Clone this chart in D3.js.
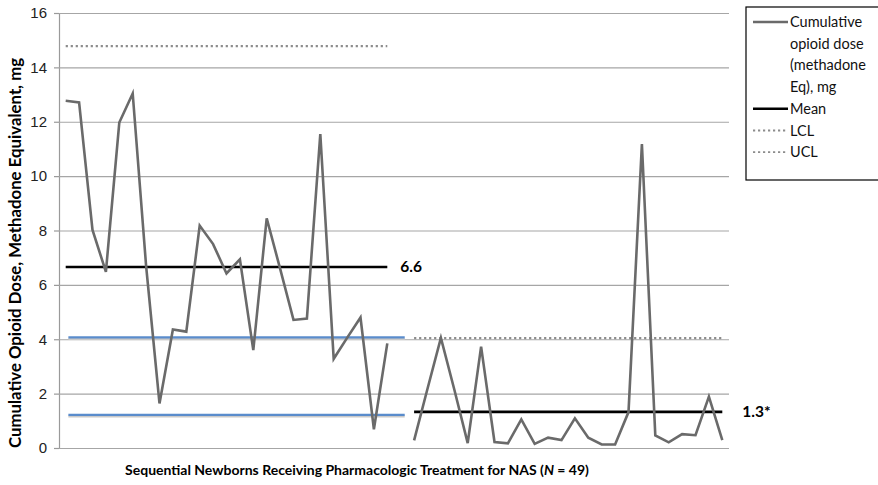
<!DOCTYPE html>
<html>
<head>
<meta charset="utf-8">
<script src="https://cdn.jsdelivr.net/npm/d3@7"></script>
<style>
  body { margin: 0; background: #fff; }
  svg { font-family: Lato, "Open Sans", sans-serif; }
</style>
</head>
<body>
<svg id="chart"></svg>
<script>
const WIDTH = 878, HEIGHT = 485;

// sequential newborns, before (1-25) and after (27-50) the intervention; slot 26 is the break
const doseBefore = [12.77, 12.71, 8.02, 6.48, 11.97, 13.04, 6.7, 1.64, 4.36, 4.28, 8.18, 7.5, 6.42,
                    6.94, 3.6, 8.45, 6.6, 4.71, 4.76, 11.55, 3.28, 4.05, 4.8, 0.69, 3.85];
const doseAfter = [0.28, 2.18, 4.05, 2.15, 0.18, 3.73, 0.22, 0.17, 1.05, 0.15, 0.38, 0.29,
                   1.09, 0.38, 0.13, 0.13, 1.32, 11.18, 0.46, 0.21, 0.51, 0.47, 1.89, 0.29];

const meanBefore = 6.66, meanAfter = 1.33;
const uclBefore = 14.78, uclAfter = 4.04;
const meanLabels = ["6.6", "1.3*"];
// the two blue lines drawn by hand over the first phase
const blueLines = [4.07, 1.22];

const yTicks = [0, 2, 4, 6, 8, 10, 12, 14, 16];
const legendItems = [
    { lines: ["Cumulative", "opioid dose", "(methadone", "Eq), mg"], type: "dose" },
    { lines: ["Mean"], type: "mean" },
    { lines: ["LCL"], type: "limit" },
    { lines: ["UCL"], type: "limit" }
];

const nSlots = doseBefore.length + 1 + doseAfter.length;
const series = doseBefore.concat([null], doseAfter);

const margin = { top: 13, bottom: 37, left: 59, right: 149 };

const svg = d3.select('svg#chart')
                .attr('width', WIDTH)
                .attr('height', HEIGHT);

const x = d3.scaleLinear()
                .domain([-0.5, nSlots - 0.5])
                .range([margin.left, WIDTH - margin.right]);

const y = d3.scaleLinear()
                .domain([0, 16])
                .range([HEIGHT - margin.bottom, margin.top]);

// gridlines + y axis
const yAxis = d3.axisLeft(y)
                .tickValues(yTicks)
                .tickSize(-(x.range()[1] - x.range()[0]))
                .tickPadding(12);

const yAxisG = svg.append('g')
                .attr('transform', `translate(${margin.left}, 0)`)
                .call(yAxis);

yAxisG.select('.domain').attr('stroke', '#9a9a9a').attr('stroke-width', 1.2);
yAxisG.selectAll('.tick line').attr('stroke', '#a6a6a6').attr('stroke-width', 1.2);
yAxisG.selectAll('.tick line').clone()
        .attr('x2', -5)
        .attr('stroke', '#9a9a9a');
yAxisG.selectAll('.tick text')
        .attr('font-size', 15)
        .attr('fill', '#222');

const limitStyle = (sel) => sel
        .attr('stroke', '#8c8c8c')
        .attr('stroke-width', 2.2)
        .attr('stroke-dasharray', '2.2,2.8')
        .attr('fill', 'none');

const hLine = (v, i0, i1) => svg.append('line')
        .attr('x1', x(i0)).attr('x2', x(i1))
        .attr('y1', y(v)).attr('y2', y(v));

// control limits
limitStyle(hLine(uclBefore, 0, doseBefore.length - 1));
limitStyle(hLine(uclAfter, doseBefore.length + 1, nSlots - 1));

// hand drawn blue lines, with their faint shadow
blueLines.forEach((v) => {
    svg.append('line')
        .attr('x1', x(0.2)).attr('x2', x(25.3))
        .attr('y1', y(v) + 1.6).attr('y2', y(v) + 1.6)
        .attr('stroke', '#c9c9c9').attr('stroke-width', 2);
    svg.append('line')
        .attr('x1', x(0.2)).attr('x2', x(25.3))
        .attr('y1', y(v)).attr('y2', y(v))
        .attr('stroke', '#5a8ccc').attr('stroke-width', 2.4);
});

// means
hLine(meanBefore, 0, doseBefore.length - 1).attr('stroke', '#000').attr('stroke-width', 2.6);
hLine(meanAfter, doseBefore.length + 1, nSlots - 1).attr('stroke', '#000').attr('stroke-width', 2.6);

// cumulative dose line, broken between the two phases
const line = d3.line()
                .defined((d) => d !== null)
                .x((d, i) => x(i))
                .y((d) => y(d));

svg.append('path')
    .datum(series)
    .attr('d', line)
    .attr('fill', 'none')
    .attr('stroke', '#6a6a6a')
    .attr('stroke-width', 2.6)
    .attr('stroke-linejoin', 'miter');

// mean labels
svg.append('text')
    .attr('x', x(doseBefore.length - 1) + 13)
    .attr('y', y(meanBefore))
    .attr('dy', '0.35em')
    .attr('font-size', 15.5)
    .attr('font-weight', 'bold')
    .text(meanLabels[0]);

svg.append('text')
    .attr('x', x(nSlots - 1) + 20)
    .attr('y', y(meanAfter))
    .attr('dy', '0.35em')
    .attr('font-size', 15.5)
    .attr('font-weight', 'bold')
    .text(meanLabels[1]);

// axis titles
svg.append('text')
    .attr('transform', `translate(21, ${(y(0) + 30) / 2 + 14}) rotate(-90)`)
    .attr('text-anchor', 'middle')
    .attr('font-size', 16.8)
    .attr('font-weight', 'bold')
    .text('Cumulative Opioid Dose, Methadone Equivalent, mg');

const xTitle = svg.append('text')
    .attr('x', 357)
    .attr('y', 475)
    .attr('text-anchor', 'middle')
    .attr('font-size', 14)
    .attr('font-weight', 'bold');
xTitle.append('tspan').text('Sequential Newborns Receiving Pharmacologic Treatment for NAS (');
xTitle.append('tspan').attr('font-style', 'italic').text('N');
xTitle.append('tspan').text(' = 49)');

// legend
const legend = svg.append('g').attr('transform', 'translate(746, 7)');
legend.append('rect')
    .attr('width', 140)
    .attr('height', 173)
    .attr('fill', '#fff')
    .attr('stroke', '#000')
    .attr('stroke-width', 1.2);

let row = 0;
const lineH = 21.7;
legendItems.forEach((item) => {
    const cy = 15 + row * lineH;
    const sample = legend.append('line')
        .attr('x1', 7).attr('x2', 42)
        .attr('y1', cy).attr('y2', cy);
    if (item.type === 'dose') sample.attr('stroke', '#6a6a6a').attr('stroke-width', 2.6);
    if (item.type === 'mean') sample.attr('stroke', '#000').attr('stroke-width', 2.6);
    if (item.type === 'limit') limitStyle(sample).attr('stroke-width', 1.8);
    item.lines.forEach((t) => {
        legend.append('text')
            .attr('x', 44)
            .attr('y', 15 + row * lineH)
            .attr('dy', '0.35em')
            .attr('font-size', 14.5)
            .attr('fill', '#111')
            .text(t);
        row++;
    });
});
</script>
</body>
</html>
